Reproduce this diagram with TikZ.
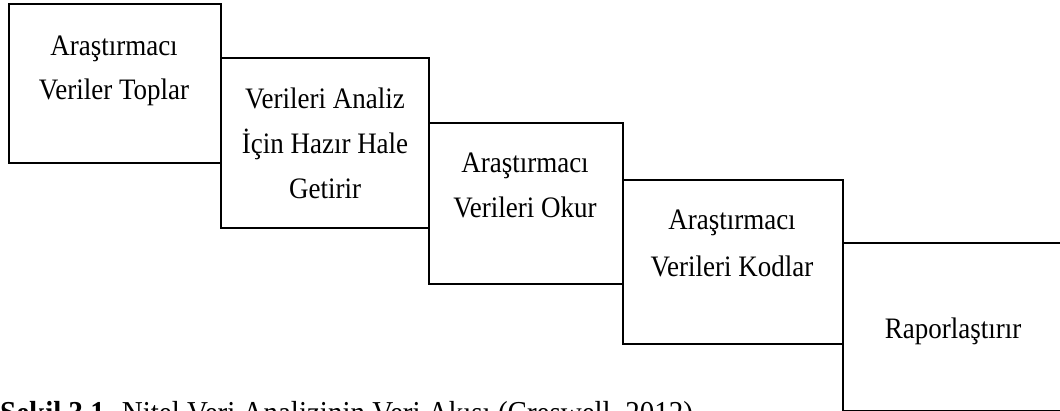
\documentclass[tikz,border=0pt]{standalone}
\usepackage{fontspec}
\setmainfont{Liberation Serif}
\newcommand{\vstretch}[1]{\scalebox{1}[1.1]{#1}}
\begin{document}
\begin{tikzpicture}[x=1pt,y=-1pt,
  box/.style={draw=black, line width=1.9pt, rectangle, inner sep=0pt, anchor=north west},
  lbl/.style={font=\fontsize{27}{30}\selectfont, inner sep=0pt, anchor=base},
  captxt/.style={font=\fontsize{29}{33}\selectfont, inner sep=0pt, anchor=base west}]
\useasboundingbox (0,0) rectangle (1060,411);
\clip (0,0) rectangle (1060,411);
% boxes
\node[box, minimum width=212pt, minimum height=159pt] (b1) at (8,3) {};
\node[box, minimum width=208pt, minimum height=170pt] (b2) at (220,57) {};
\node[box, minimum width=194pt, minimum height=161pt] (b3) at (428,122) {};
\node[box, minimum width=220pt, minimum height=164pt] (b4) at (622,179) {};
\node[box, minimum width=222pt, minimum height=168pt] (b5) at (842,242) {};
% texts
\node[lbl] (t1a) at (114,56) {\vstretch{Araştırmacı}};
\node[lbl] (t1b) at (114,100) {\vstretch{Veriler Toplar}};
\node[lbl] (t2a) at (325,109) {\vstretch{Verileri Analiz}};
\node[lbl] (t2b) at (325,154) {\vstretch{İçin Hazır Hale}};
\node[lbl] (t2c) at (325,199) {\vstretch{Getirir}};
\node[lbl] (t3a) at (525,173) {\vstretch{Araştırmacı}};
\node[lbl] (t3b) at (525,218) {\vstretch{Verileri Okur}};
\node[lbl] (t4a) at (732,230) {\vstretch{Araştırmacı}};
\node[lbl] (t4b) at (732,277) {\vstretch{Verileri Kodlar}};
\node[lbl] (t5a) at (953,339) {\vstretch{Raporlaştırır}};
% caption
\node[captxt] (caption) at (0,423.5) {\vstretch{\textbf{Şekil 3.1.} Nitel Veri Analizinin Veri Akışı (Creswell, 2012)}};
\end{tikzpicture}
\end{document}
